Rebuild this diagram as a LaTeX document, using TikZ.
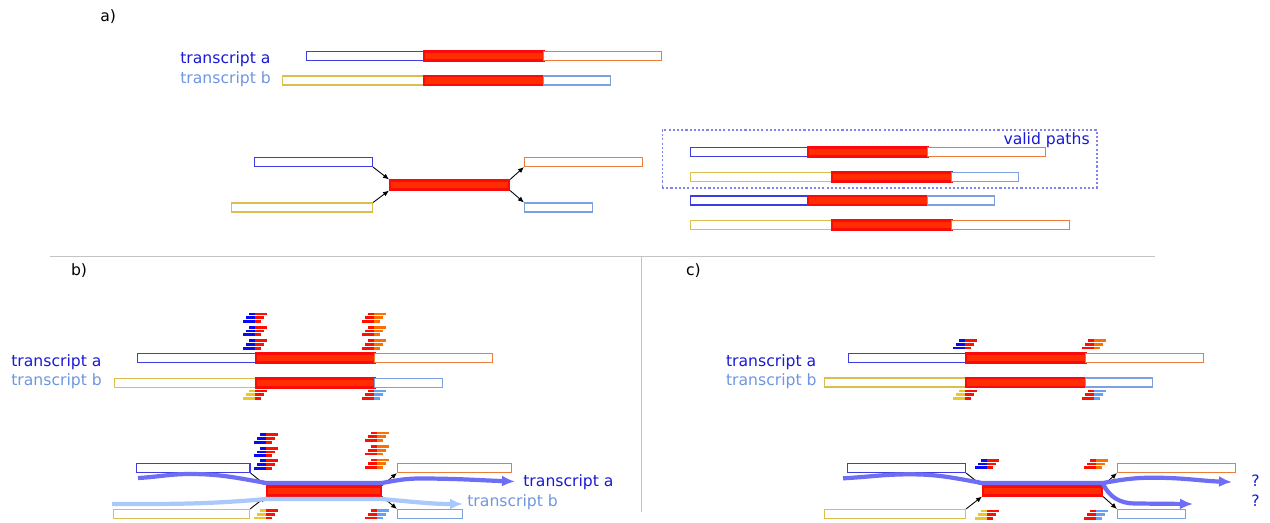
\documentclass[tikz,border=0pt]{standalone}
\usepackage{fontspec}
\setmainfont{DejaVu Sans}
\usetikzlibrary{arrows.meta}

\definecolor{txtA}{RGB}{25,25,215}
\definecolor{txtB}{RGB}{110,150,225}
\definecolor{exA}{RGB}{60,60,225}
\definecolor{exB}{RGB}{220,190,80}
\definecolor{exO}{RGB}{235,125,60}
\definecolor{exL}{RGB}{125,160,225}
\definecolor{coreFill}{RGB}{255,45,0}
\definecolor{coreDraw}{RGB}{250,10,10}
\definecolor{rdBlue}{RGB}{10,10,240}
\definecolor{rdRed}{RGB}{255,15,0}
\definecolor{rdOrange}{RGB}{255,110,0}
\definecolor{rdGold}{RGB}{235,200,40}
\definecolor{rdLight}{RGB}{100,160,250}
\definecolor{pathA}{RGB}{110,110,245}
\definecolor{pathB}{RGB}{170,200,250}
\definecolor{boxLine}{RGB}{130,130,235}
\definecolor{sepLine}{RGB}{195,195,195}

\tikzset{
  exon/.style={rectangle, draw, fill=white, line width=0.6pt, inner sep=0pt, minimum height=0.18cm, anchor=west},
  core/.style={exon, fill=coreFill, draw=coreDraw, line width=1.2pt},
  link/.style={-{Latex[length=1.2mm,width=1mm]}, line width=0.5pt},
  patha/.style={line width=2.4pt, draw=pathA, -{Latex[length=0.26cm,width=0.22cm]}},
  pathb/.style={line width=2.4pt, draw=pathB, -{Latex[length=0.26cm,width=0.22cm]}},
  lbl/.style={inner sep=0pt, anchor=base west, font=\fontsize{8.9}{10}\selectfont},
  validbox/.style={rectangle, draw=boxLine, line width=0.6pt, dash pattern=on 1.2pt off 1.2pt, inner sep=0pt},
  sep/.style={draw=sepLine, line width=0.6pt}
}

% one group of three staggered reads across a junction
\newcommand{\readgroup}[4]{%
  \foreach \i in {0,1,2}{%
    \fill[#3] ({#1-6-3*\i},{#2+3.7*\i-1.4}) rectangle (#1,{#2+3.7*\i+1.4});
    \fill[#4] (#1,{#2+3.7*\i-1.4}) rectangle ({#1+12-3*\i},{#2+3.7*\i+1.4});
  }}

\begin{document}
\begin{tikzpicture}[x=0.02cm,y=-0.02cm]
  \useasboundingbox (0,0) rectangle (1270,522);

  % ---- a)
  \node[lbl] (la) at (100,21.5) {a)};
  \node[lbl, text=txtA] (aTa) at (180,63.3) {transcript a};
  \node[lbl, text=txtB] (aTb) at (180,83) {transcript b};

  \node[exon, draw=exA, minimum width=2.34cm] (a1L) at (306,56) {};
  \node[core, minimum width=2.40cm] (a1C) at (423,56) {};
  \node[exon, draw=exO, minimum width=2.36cm] (a1R) at (543,56) {};

  \node[exon, draw=exB, minimum width=2.82cm] (a2L) at (282,80.5) {};
  \node[core, minimum width=2.40cm] (a2C) at (423,80.5) {};
  \node[exon, draw=exL, minimum width=1.34cm] (a2R) at (543,80.5) {};

  \node[exon, draw=exA, minimum width=2.36cm] (gaL1) at (254,162) {};
  \node[exon, draw=exB, minimum width=2.82cm] (gaL2) at (231,207.5) {};
  \node[core, minimum width=2.38cm] (gaC) at (389,185) {};
  \node[exon, draw=exO, minimum width=2.36cm] (gaR1) at (524,162) {};
  \node[exon, draw=exL, minimum width=1.36cm] (gaR2) at (524,207.5) {};

  \draw[link] (gaL1.south east) -- (gaC.north west);
  \draw[link] (gaL2.north east) -- (gaC.south west);
  \draw[link] (gaC.north east) -- (gaR1.south west);
  \draw[link] (gaC.south east) -- (gaR2.north west);

  \node[validbox, minimum width=8.7cm, minimum height=1.16cm] (valid) at (879.5,159) {};
  \node[lbl, text=txtA, anchor=base east] (vtxt) at (1090,144) {valid paths};

  \node[exon, draw=exA, minimum width=2.34cm] (v1L) at (690,152) {};
  \node[core, minimum width=2.40cm] (v1C) at (807,152) {};
  \node[exon, draw=exO, minimum width=2.36cm] (v1R) at (927,152) {};

  \node[exon, draw=exB, minimum width=2.82cm] (v2L) at (690,177) {};
  \node[core, minimum width=2.40cm] (v2C) at (831,177) {};
  \node[exon, draw=exL, minimum width=1.34cm] (v2R) at (951,177) {};

  \node[exon, draw=exA, minimum width=2.34cm] (v3L) at (690,200.5) {};
  \node[core, minimum width=2.40cm] (v3C) at (807,200.5) {};
  \node[exon, draw=exL, minimum width=1.34cm] (v3R) at (927,200.5) {};

  \node[exon, draw=exB, minimum width=2.82cm] (v4L) at (690,225) {};
  \node[core, minimum width=2.40cm] (v4C) at (831,225) {};
  \node[exon, draw=exO, minimum width=2.36cm] (v4R) at (951,225) {};

  % separators
  \draw[sep] (50,256.5) -- (1155,256.5);
  \draw[sep] (641.7,256.5) -- (641.7,512);

  % ---- b)
  \node[lbl] (lb) at (70.7,275) {b)};
  \node[lbl, text=txtA] (bTa) at (11,366) {transcript a};
  \node[lbl, text=txtB] (bTb) at (11,385.7) {transcript b};

  \foreach \y in {314, 327.3, 340.7}{
    \readgroup{255}{\y}{rdBlue}{rdRed}
    \readgroup{374}{\y}{rdRed}{rdOrange}
  }
  \readgroup{255}{391}{rdGold}{rdRed}
  \readgroup{374}{391}{rdRed}{rdLight}

  \node[exon, draw=exA, minimum width=2.36cm] (b1L) at (137,358) {};
  \node[core, minimum width=2.38cm] (b1C) at (255,358) {};
  \node[exon, draw=exO, minimum width=2.36cm] (b1R) at (374,358) {};

  \node[exon, draw=exB, minimum width=2.82cm] (b2L) at (114,383) {};
  \node[core, minimum width=2.38cm] (b2C) at (255,383) {};
  \node[exon, draw=exL, minimum width=1.36cm] (b2R) at (374,383) {};

  \foreach \y in {434.8, 448.2, 460.8}{
    \readgroup{266}{\y}{rdBlue}{rdRed}
  }
  \foreach \y in {433, 446.5, 460}{
    \readgroup{377}{\y}{rdRed}{rdOrange}
  }
  \readgroup{266}{510.5}{rdGold}{rdRed}
  \readgroup{377}{510.5}{rdRed}{rdLight}

  \node[exon, draw=exA, minimum width=2.27cm] (gbL1) at (136,468) {};
  \node[exon, draw=exB, minimum width=2.72cm] (gbL2) at (113,514) {};
  \node[core, minimum width=2.28cm] (gbC) at (266,491) {};
  \node[exon, draw=exO, minimum width=2.28cm] (gbR1) at (397,468) {};
  \node[exon, draw=exL, minimum width=1.30cm] (gbR2) at (397,514) {};

  \draw[link] (gbL1.south east) -- (gbC.north west);
  \draw[link] (gbL2.north east) -- (gbC.south west);
  \draw[link] (gbC.north east) -- (gbR1.south west);
  \draw[link] (gbC.south east) -- (gbR2.north west);

  \coordinate (pa0) at (138,478);
  \coordinate (pa1) at (515,481.5);
  \coordinate (pb0) at (112,504);
  \coordinate (pb1) at (463,504);
  \draw[patha] (pa0) to[out=3,in=180] (190,474) to[out=0,in=170] ([yshift=0.05cm]gbC.north west)
    -- ([yshift=0.05cm]gbC.north east) to[out=10,in=180] (420,478.5) to[out=0,in=178] (pa1);
  \draw[pathb] (pb0) to[out=0,in=185] ([yshift=-0.05cm]gbC.south west)
    -- ([yshift=-0.05cm]gbC.south east) to[out=-5,in=180] (pb1);
  \node[lbl, text=txtA] (pTa) at (523,486) {transcript a};
  \node[lbl, text=txtB] (pTb) at (467,506.7) {transcript b};

  % ---- c)
  \node[lbl] (lc) at (685.7,275) {c)};
  \node[lbl, text=txtA] (cTa) at (725.7,366) {transcript a};
  \node[lbl, text=txtB] (cTb) at (725.7,385.7) {transcript b};

  \readgroup{965}{340.5}{rdBlue}{rdRed}
  \readgroup{1094}{340.5}{rdRed}{rdOrange}
  \readgroup{965}{391}{rdGold}{rdRed}
  \readgroup{1094}{391}{rdRed}{rdLight}

  \node[exon, draw=exA, minimum width=2.34cm] (c1L) at (848,358) {};
  \node[core, minimum width=2.40cm] (c1C) at (965,358) {};
  \node[exon, draw=exO, minimum width=2.36cm] (c1R) at (1085,358) {};

  \node[exon, draw=exB, minimum width=2.82cm] (c2L) at (824,382.5) {};
  \node[core, minimum width=2.40cm] (c2C) at (965,382.5) {};
  \node[exon, draw=exL, minimum width=1.34cm] (c2R) at (1085,382.5) {};

  \readgroup{987}{460.3}{rdBlue}{rdRed}
  \readgroup{1096}{460.3}{rdRed}{rdOrange}
  \readgroup{987}{511}{rdGold}{rdRed}
  \readgroup{1096}{511}{rdRed}{rdLight}

  \node[exon, draw=exA, minimum width=2.36cm] (gcL1) at (847,468) {};
  \node[exon, draw=exB, minimum width=2.82cm] (gcL2) at (824,514) {};
  \node[core, minimum width=2.38cm] (gcC) at (982,491) {};
  \node[exon, draw=exO, minimum width=2.36cm] (gcR1) at (1117,468) {};
  \node[exon, draw=exL, minimum width=1.36cm] (gcR2) at (1117,514) {};

  \draw[link] (gcL1.south east) -- (gcC.north west);
  \draw[link] (gcL2.north east) -- (gcC.south west);
  \draw[link] (gcC.north east) -- (gcR1.south west);
  \draw[link] (gcC.south east) -- (gcR2.north west);

  \coordinate (qa0) at (843,478.3);
  \coordinate (qa1) at (1232,482);
  \coordinate (qb1) at (1193,504);
  \draw[patha] (qa0) to[out=3,in=180] (910,474.3) to[out=0,in=170] ([yshift=0.05cm]gcC.north west)
    -- ([yshift=0.05cm]gcC.north east) to[out=10,in=180] (1153,477.7) to[out=0,in=178] (qa1);
  \draw[patha] ([yshift=0.03cm]gcC.north east) to[out=-65,in=180] (1135,503.5) -- (qb1);
  \node[lbl, text=txtA] (q1) at (1251,486.7) {?};
  \node[lbl, text=txtA] (q2) at (1251,506.7) {?};
\end{tikzpicture}
\end{document}
